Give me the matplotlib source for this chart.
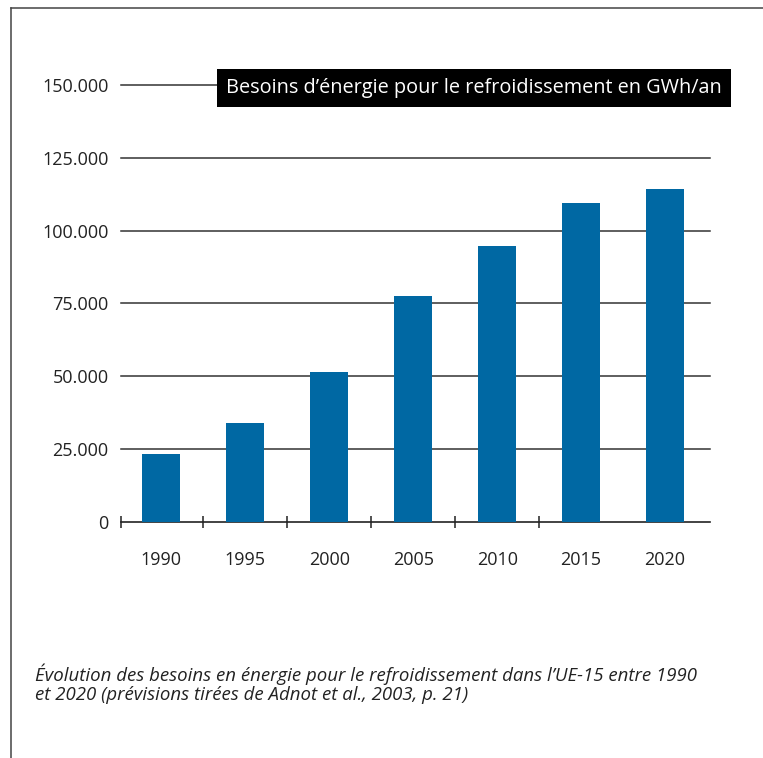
import matplotlib
matplotlib.use('Agg')
import matplotlib.pyplot as plt
from matplotlib.lines import Line2D
from matplotlib.ticker import FixedLocator, FuncFormatter

years = ['1990', '1995', '2000', '2005', '2010', '2015', '2020']
demand_gwh = [23300, 34000, 51500, 77500, 94700, 109500, 114300]
y_ticks = [0, 25000, 50000, 75000, 100000, 125000, 150000]

title = 'Besoins d\u2019énergie pour le refroidissement en GWh/an'
caption = ('Évolution des besoins en énergie pour le refroidissement dans l\u2019UE-15 entre 1990\n'
           'et 2020 (prévisions tirées de Adnot et al., 2003, p. 21)')

plt.rcParams['font.family'] = ['Open Sans', 'DejaVu Sans']

fig = plt.figure(figsize=(7.63, 7.58), dpi=100)
ax = fig.add_axes([0.1586, 0.3117, 0.772, 0.5762])

x = list(range(len(years)))
ax.bar(x, demand_gwh, width=0.452, color='#0068a3', zorder=3)

# horizontal grid lines across the whole plot
for v in y_ticks[1:]:
    ax.axhline(v, color='#333333', lw=1.1, zorder=1, clip_on=False)

ax.set_xlim(-0.478, 6.535)
ax.set_ylim(0, 150000)

for side in ['top', 'right', 'left']:
    ax.spines[side].set_visible(False)
ax.spines['bottom'].set_color('#222222')
ax.spines['bottom'].set_linewidth(1.2)

ax.yaxis.set_major_locator(FixedLocator(y_ticks))
ax.yaxis.set_major_formatter(FuncFormatter(lambda v, p: '{:,.0f}'.format(v).replace(',', '.')))
ax.tick_params(axis='y', length=0, pad=9, labelsize=13, labelcolor='#222222')

# year labels below the bars, separator ticks between groups
ax.set_xticks(x)
ax.set_xticklabels(years)
ax.tick_params(axis='x', which='major', length=0, pad=21, labelsize=13, labelcolor='#222222')
ax.set_xticks([-0.478, 0.5, 1.5, 2.5, 3.5, 4.5], minor=True)
ax.tick_params(axis='x', which='minor', direction='inout', length=9, width=1.1, color='#222222')

# title in a black box over the top grid line
ax.text(0.178, 0.993, title, transform=ax.transAxes, ha='left', va='center',
        color='white', fontsize=14.3, zorder=5,
        bbox=dict(boxstyle='square,pad=0.47', fc='black', ec='none'))

fig.text(0.046, 0.0976, caption, ha='left', va='center', fontsize=13.4,
         style='italic', color='#222222', linespacing=1.1)

# frame lines on the left and top of the page
fig.add_artist(Line2D([0.0144, 0.0144], [0.0, 0.9894], color='#444444', lw=1.1))
fig.add_artist(Line2D([0.0144, 1.0], [0.9894, 0.9894], color='#444444', lw=1.1))

fig.savefig('out.png', dpi=100)
